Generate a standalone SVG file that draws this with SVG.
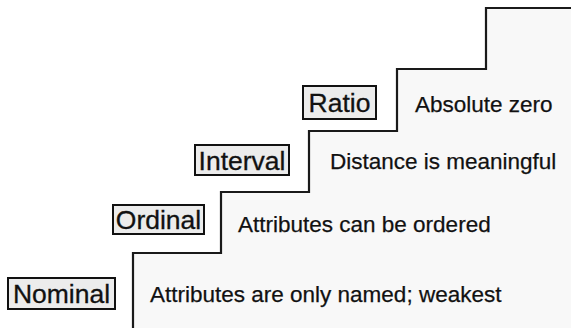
<svg xmlns="http://www.w3.org/2000/svg" width="571" height="328" viewBox="0 0 571 328">
  <style>
    .stair { fill: #f8f8f8; stroke: #1a1a1a; stroke-width: 2.2; stroke-linejoin: miter; }
    .tag rect { fill: #ececec; stroke: #111; stroke-width: 2; }
    .tag text { font-family: "Liberation Sans", Arial, sans-serif; font-size: 26.5px; fill: #111; text-anchor: middle; stroke: #111; stroke-width: 0.3; }
    .desc { font-family: "Liberation Sans", Arial, sans-serif; font-size: 22.5px; fill: #111; stroke: #111; stroke-width: 0.25; }
  </style>
  <rect width="571" height="328" fill="#ffffff"/>

  <!-- staircase outline, filled to the right/below -->
  <g id="connectors">
    <path class="stair" d="M133 330 L133 253 L221 253 L221 192 L309 192 L309 131 L397 131 L397 69 L486 69 L486 8 L573 8 L573 330 Z"/>
  </g>

  <g id="nominal" class="tag">
    <rect x="8" y="278" width="107" height="31"/>
    <text x="61.5" y="303">Nominal</text>
  </g>
  <g id="ordinal" class="tag">
    <rect x="113" y="205" width="91" height="29"/>
    <text x="158.5" y="229">Ordinal</text>
  </g>
  <g id="interval" class="tag">
    <rect x="195" y="145" width="94" height="30"/>
    <text x="242" y="169.5">Interval</text>
  </g>
  <g id="ratio" class="tag">
    <rect x="303" y="86" width="73" height="33"/>
    <text x="339.5" y="112">Ratio</text>
  </g>

  <g id="descriptions">
    <text class="desc" x="150" y="302">Attributes are only named; weakest</text>
    <text class="desc" x="238" y="231.5">Attributes can be ordered</text>
    <text class="desc" x="330" y="168.5">Distance is meaningful</text>
    <text class="desc" x="415" y="111.5">Absolute zero</text>
  </g>
</svg>
